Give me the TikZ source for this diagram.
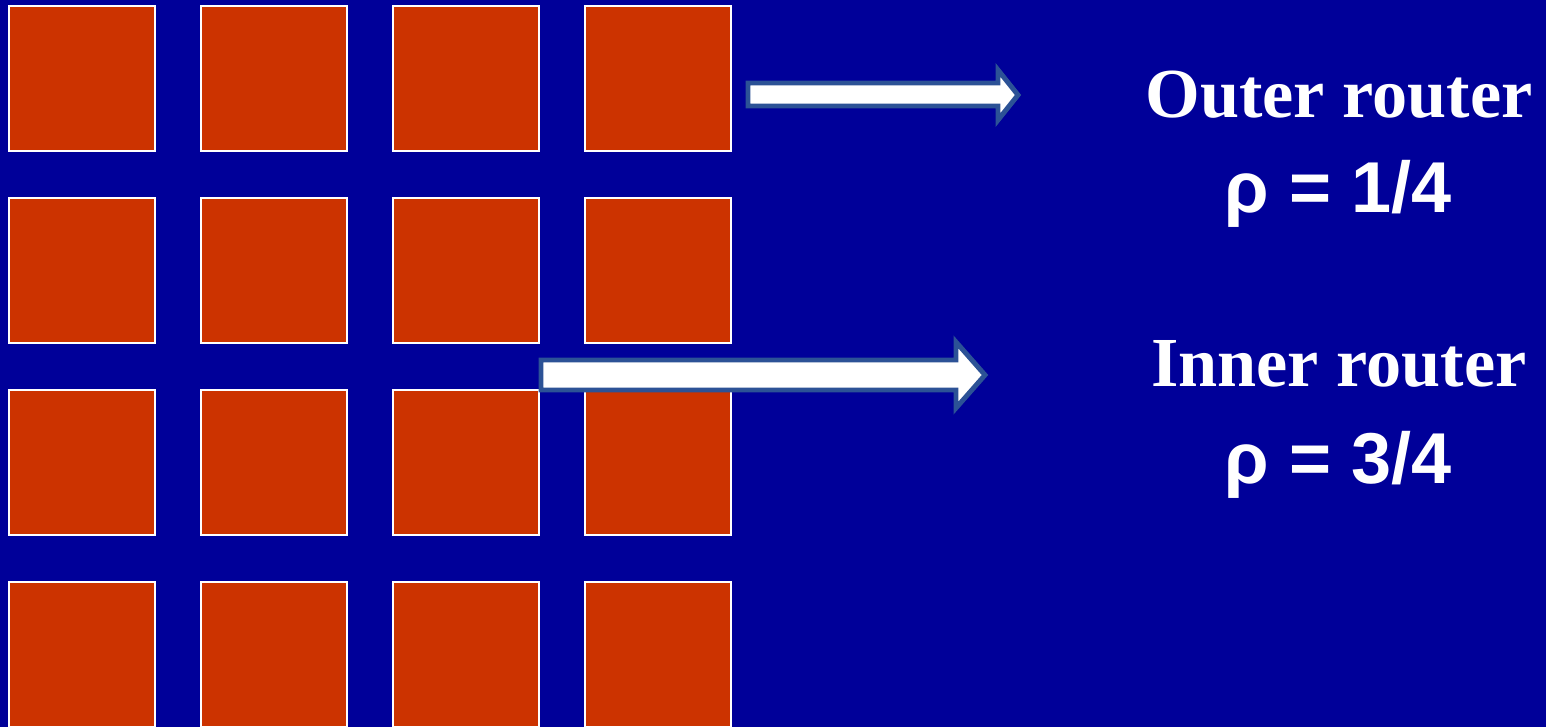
\documentclass[tikz,border=0pt]{standalone}
\usepackage{fontspec}
\usepackage{xcolor}
\usepackage{tikz}
\newfontfamily\labelfont{Liberation Serif}
\newfontfamily\ratiofont{Liberation Sans}
\definecolor{slide}{RGB}{0,0,153}
\definecolor{tile}{RGB}{204,51,0}
\definecolor{rim}{RGB}{44,82,150}

\begin{document}
\begin{tikzpicture}[x=0.02cm, y=-0.02cm, every node/.style={text=white, anchor=base}]
\fill[slide] (0,0) rectangle (1546,727);
\useasboundingbox (0,0) rectangle (1546,727);
% 4x4 grid of routers
\foreach \c in {0,1,2,3} {
  \foreach \r in {0,1,2,3} {
    \draw[white, fill=tile, line width=1.1pt] (9+192*\c,6+192*\r) rectangle +(146,145);
  }
}
% block arrows
\draw[rim, fill=white, line width=2.8pt, line join=miter]
  (748,83) -- (998,83) -- (998,70) -- (1018,95) -- (998,120) -- (998,106) -- (748,106) -- cycle;
\draw[rim, fill=white, line width=2.8pt, line join=miter]
  (541,360) -- (956,360) -- (956,342) -- (985,375) -- (956,408) -- (956,390) -- (541,390) -- cycle;
\node (outer) at (1339,117) {\labelfont\bfseries\fontsize{40}{44}\selectfont Outer router};
\node (rhoout) at (1338,212) {\ratiofont\bfseries\fontsize{41}{45}\selectfont ρ = 1/4};
\node (inner) at (1339,386) {\labelfont\bfseries\fontsize{40}{44}\selectfont Inner router};
\node (rhoin) at (1338,483) {\ratiofont\bfseries\fontsize{41}{45}\selectfont ρ = 3/4};
\end{tikzpicture}
\end{document}
